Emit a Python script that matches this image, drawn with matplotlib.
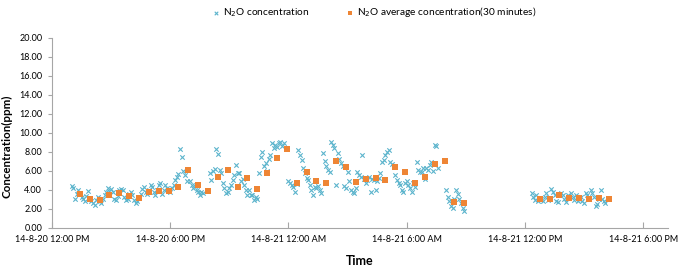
import numpy as np
import pandas as pd
import matplotlib
matplotlib.use("Agg")
import matplotlib.pyplot as plt
import matplotlib.dates as mdates
from matplotlib.ticker import FuncFormatter

plt.rcParams['font.family'] = ['Lato', 'DejaVu Sans']

# raw N2O readings, one every 5 minutes (nan = no reading)
nan = np.nan
raw1_start = "2014-08-20 13:00"
raw1 = [
    4.4, 4.2, 3.1, 3.6, 4.0, 3.7,   3.3, 3.0, 2.8, 3.4, 3.9, 3.1,
    2.8, 2.6, 2.4, 2.9, 3.3, 2.8,   2.6, 3.1, 3.5, 3.8, 4.2, 3.9,
    4.1, 3.8, 3.1, 2.9, 3.4, 4.0,   4.1, 4.0, 3.3, 2.9, 3.1, 3.6,
    3.8, 3.5, 2.9, 2.6, 2.8, 3.2,   3.6, 4.1, 4.3, 3.8, 3.6, 4.0,
    4.5, 4.3, 3.8, 3.5, 4.0, 4.5,   4.7, 3.6, 4.0, 4.5, 4.2, 3.9,
    3.8, 4.2, 4.5, 5.05, 5.4, 5.7,  8.3, 7.5, 6.0, 5.6, 4.9, 6.1,
    4.9, 4.5, 4.2, 4.4, 4.0, 3.8,   3.5, 3.8, 3.65, nan, nan, nan,
    5.8, 5.05, 6.0, 6.2, 8.3, 7.8,  6.1, 5.8, 4.7, 4.2, 3.65, 3.8,
    4.2, 4.5, 5.05, 5.6, 6.6, 5.8,  5.8, 4.9, 5.2, 4.5, 4.0, 3.5,
    4.0, 3.5, 3.5, 2.9, 3.3, 3.1,   5.8, 7.5, 8.0, 6.5, 6.8, 6.0,
    7.3, 7.7, 8.9, 8.4, 8.7, 8.5,   8.9, 9.0, 8.6, 8.9, nan, nan,
    4.9, 4.7, 4.5, 4.3, 3.8, 4.6,   8.2, 7.7, 7.2, 6.3, 5.8, 5.3,
    5.05, 4.5, 4.0, 3.5, 4.3, 4.2,  4.4, 4.0, 3.65, 7.9, 7.0, 6.5,
    6.1, 5.9, 9.1, 8.7, 8.4, 4.5,   7.9, 7.3, 6.8, 6.5, 4.4, 4.2,
    5.9, 4.9, 4.0, 3.8, 3.65, 4.2,  5.9, 5.6, 5.4, 7.7, 5.2, 4.7,
    5.05, 5.4, 3.8, 5.2, 5.05, 4.0, 4.9, 5.3, 5.8, 6.9, 7.2, 7.7,
    8.0, 8.2, 6.9, 6.7, 6.4, 5.6,   5.05, 4.7, 4.5, 4.0, 3.8, 4.7,
    4.9, 4.5, 4.2, 3.8, 4.7, 4.3,   6.9, 6.1, 5.9, 5.9, 6.3, 5.2,
    6.3, 6.1, 6.6, 6.9, 6.0, 8.7,   8.6, 6.3, nan, nan, nan, nan,
    4.0, 3.3, 2.8, 2.3, 2.1, 3.1,   4.0, 3.6, 3.0, 2.6, 2.1, 1.75,
]
raw2_start = "2014-08-21 12:20"
raw2 = [
    3.65, 3.3, 2.95, 3.5, 2.8, 3.2,  3.1, 2.8, 3.3, 3.65, 2.95, 3.0,
    4.1, 3.8, 3.5, 2.8, 2.7, 3.6,    3.65, 3.5, 3.1, 2.7, 3.5, 3.2,
    3.65, 3.3, 2.95, 3.5, 2.8, 3.1,  3.3, 2.8, 2.6, 3.65, 3.5, 3.0,
    4.0, 3.65, 3.3, 2.3, 2.5, 3.1,   4.0, 3.1, 2.8, 2.6,
]

# 30-minute averages
avg1_start = "2014-08-20 13:25"
avg1 = [3.6, 3.05, 2.9, 3.5, 3.65, 3.35, 3.2, 3.8, 3.9, 3.9,
        4.35, 6.07, 4.5, 3.9, 5.4, 6.07, 4.35, 5.3, 4.05, 5.8,
        7.4, 8.3, 4.7, 5.9, 4.9, 4.7, 7.0, 6.45, 4.8, 5.15,
        5.3, 5.1, 6.45, 5.9, 4.7, 5.4, 6.7, 7.05, 2.77, 2.67]
avg2_start = "2014-08-21 12:45"
avg2 = [3.05, 3.1, 3.5, 3.15, 3.2, 3.1, 3.2, 3.0]

raw_t = np.concatenate([pd.date_range(raw1_start, periods=len(raw1), freq="5min"),
                        pd.date_range(raw2_start, periods=len(raw2), freq="5min")])
raw_v = np.array(raw1 + raw2)
avg_t = np.concatenate([pd.date_range(avg1_start, periods=len(avg1), freq="30min"),
                        pd.date_range(avg2_start, periods=len(avg2), freq="30min")])
avg_v = np.array(avg1 + avg2)

fig = plt.figure(figsize=(6.79, 2.73), dpi=100)
ax = fig.add_axes([0.0766, 0.165, 0.907, 0.696])

ax.scatter(raw_t, raw_v, marker='x', s=10, linewidths=0.8, color='#5BB4CC',
           label='N$_2$O concentration', zorder=2)
ax.scatter(avg_t, avg_v, marker='s', s=15, color='#EE8535', linewidths=0,
           label='N$_2$O average concentration(30 minutes)', zorder=3)

ax.set_ylim(0, 20)
ax.set_yticks(np.arange(0, 21, 2))
ax.yaxis.set_major_formatter(FuncFormatter(lambda v, p: f"{v:.2f}"))
ax.set_xlim(pd.Timestamp("2014-08-20 12:00"), pd.Timestamp("2014-08-21 19:15"))
ax.set_xticks(pd.date_range("2014-08-20 12:00", "2014-08-21 18:00", freq="6h"))


def fmt_time(x, pos):
    d = mdates.num2date(x)
    h = d.hour % 12
    if h == 0:
        h = 12
    ampm = "AM" if d.hour < 12 else "PM"
    return f"{d.year % 100}-{d.month}-{d.day} {h}:{d.minute:02d} {ampm}"


ax.xaxis.set_major_formatter(FuncFormatter(fmt_time))

for s in ['top', 'right']:
    ax.spines[s].set_visible(False)
for s in ['left', 'bottom']:
    ax.spines[s].set_color('#A6A6A6')
    ax.spines[s].set_linewidth(0.8)
ax.tick_params(axis='y', direction='out', length=3, color='#A6A6A6', labelsize=6.5, pad=4)
ax.tick_params(axis='x', direction='in', length=4, color='#A6A6A6', labelsize=6.5, pad=5)

ax.set_ylabel("Concentration(ppm)", fontsize=8.3, fontweight='bold')
ax.yaxis.set_label_coords(-0.064, 0.43)
ax.set_xlabel("Time", fontsize=9, fontweight='bold', labelpad=8)

fig.legend(loc='center', bbox_to_anchor=(0.551, 0.955), ncol=2, frameon=False,
           fontsize=7.3, columnspacing=3.6, handletextpad=0.3, handlelength=0.8,
           markerscale=0.8)

fig.savefig("out.png", dpi=100)
